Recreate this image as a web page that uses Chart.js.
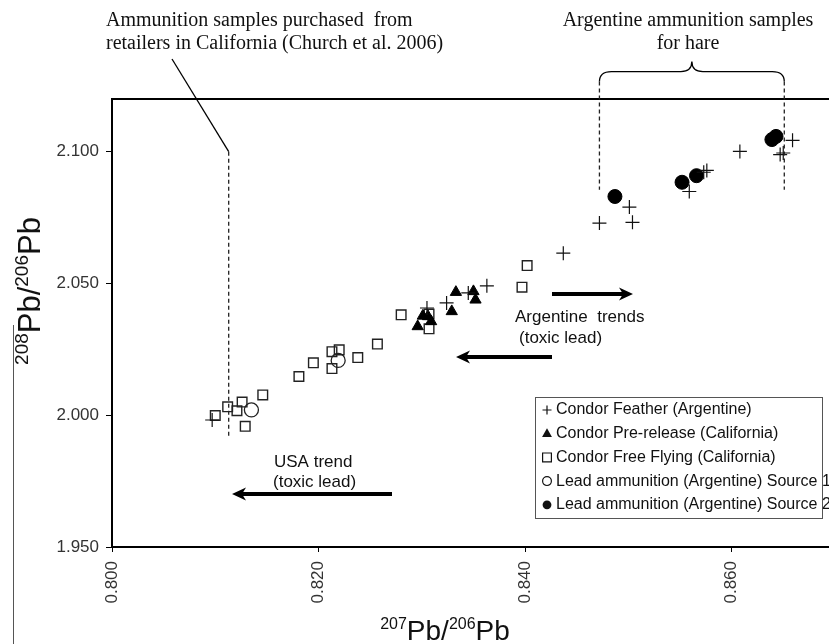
<!DOCTYPE html>
<html>
<head>
<meta charset="utf-8">
<title>Pb isotope ratios</title>
<script src="https://cdn.jsdelivr.net/npm/chart.js@4.4.1/dist/chart.umd.min.js"></script>
<style>
  html, body { margin: 0; padding: 0; overflow: hidden; background: #fff; width: 829px; height: 644px; }
  canvas { position: absolute; left: 0; top: 0; }
</style>
</head>
<body>
<canvas id="pbChart" width="880" height="644" style="width:880px;height:644px"></canvas>
<script>
// tick values
const xTicks = [0.800, 0.820, 0.840, 0.860];
const yTicks = [1.950, 2.000, 2.050, 2.100];

// Condor Feather (Argentine)
const featherX = [0.8097, 0.8305, 0.8324, 0.8345, 0.8363, 0.8437, 0.8472, 0.8504, 0.8501, 0.8559, 0.8573, 0.8576, 0.8608, 0.8647, 0.8650, 0.8659];
const featherY = [1.9982, 2.0407, 2.0426, 2.0464, 2.0491, 2.0615, 2.0729, 2.0732, 2.0790, 2.0849, 2.0922, 2.0929, 2.1001, 2.0989, 2.0995, 2.1043];

// Condor Pre-release (California)
const preReleaseX = [0.8333, 0.8350, 0.8352, 0.8329, 0.8301, 0.8296, 0.8309, 0.8306];
const preReleaseY = [2.0467, 2.0470, 2.0438, 2.0394, 2.0377, 2.0337, 2.0356, 2.0375];

// Condor Free Flying (California)
const freeFlyingX = [0.8100, 0.8112, 0.8126, 0.8121, 0.8129, 0.8146, 0.8181, 0.8195, 0.8213, 0.8220, 0.8213, 0.8238, 0.8257, 0.8280, 0.8307, 0.8307, 0.8397, 0.8402];
const freeFlyingY = [1.9999, 2.0032, 2.0050, 2.0017, 1.9958, 2.0077, 2.0147, 2.0199, 2.0241, 2.0248, 2.0177, 2.0219, 2.0270, 2.0381, 2.0384, 2.0328, 2.0486, 2.0568];

// Lead ammunition (Argentine) Source 1
const source1X = [0.8135, 0.8219];
const source1Y = [2.0020, 2.0208];

// Lead ammunition (Argentine) Source 2
const source2X = [0.8487, 0.8552, 0.8566, 0.8639, 0.8643];
const source2Y = [2.0830, 2.0884, 2.0909, 2.1046, 2.1058];

// reference lines (data units)
const churchLineX = 0.8113;
const churchLineY = [2.100, 1.992];
const hareLinesX = [0.8472, 0.8651];
const hareLinesY = [2.1266, 2.0856];

const SANS = "'Liberation Sans', Arial, sans-serif";
const SERIF = "'Liberation Serif', 'Times New Roman', serif";

function toPoints(xs, ys) {
    return xs.map((x, i) => ({ x: x, y: ys[i] }));
}

function drawMarker(ctx, style, x, y, r) {
    ctx.save();
    ctx.strokeStyle = '#111';
    ctx.fillStyle = '#111';
    ctx.lineWidth = 1.2;
    ctx.beginPath();
    if (style === 'cross') {
        ctx.moveTo(x - r, y); ctx.lineTo(x + r, y);
        ctx.moveTo(x, y - r); ctx.lineTo(x, y + r);
        ctx.stroke();
    } else if (style === 'triangle') {
        ctx.moveTo(x, y - r);
        ctx.lineTo(x + r * 0.9, y + r * 0.6);
        ctx.lineTo(x - r * 0.9, y + r * 0.6);
        ctx.closePath();
        ctx.fill();
    } else if (style === 'rect') {
        ctx.rect(x - r * 0.8, y - r * 0.8, r * 1.6, r * 1.6);
        ctx.stroke();
    } else if (style === 'openCircle') {
        ctx.arc(x, y, r * 0.8, 0, Math.PI * 2);
        ctx.stroke();
    } else {
        ctx.arc(x, y, r * 0.8, 0, Math.PI * 2);
        ctx.fill();
    }
    ctx.restore();
}

// text with superscript parts, e.g. 207Pb/206Pb
function drawIsotopeLabel(ctx, parts, x, y, bigSize, supSize) {
    let total = 0;
    parts.forEach(p => {
        ctx.font = (p.sup ? supSize : bigSize) + 'px ' + SANS;
        p.w = ctx.measureText(p.t).width;
        total += p.w;
    });
    let cx = x - total / 2;
    parts.forEach(p => {
        ctx.font = (p.sup ? supSize : bigSize) + 'px ' + SANS;
        ctx.fillText(p.t, cx, p.sup ? y - bigSize * 0.38 : y);
        cx += p.w;
    });
}

function drawArrow(ctx, x1, y, x2) {
    const dir = x2 > x1 ? 1 : -1;
    ctx.save();
    ctx.strokeStyle = '#000';
    ctx.fillStyle = '#000';
    ctx.lineWidth = 4;
    ctx.beginPath();
    ctx.moveTo(x1, y);
    ctx.lineTo(x2 - dir * 8, y);
    ctx.stroke();
    ctx.beginPath();
    ctx.moveTo(x2, y);
    ctx.lineTo(x2 - dir * 14, y - 6.5);
    ctx.lineTo(x2 - dir * 10, y);
    ctx.lineTo(x2 - dir * 14, y + 6.5);
    ctx.closePath();
    ctx.fill();
    ctx.restore();
}

const annotationPlugin = {
    id: 'annotations',
    afterDatasetsDraw(chart) {
        const ctx = chart.ctx;
        const area = chart.chartArea;
        const xs = chart.scales.x;
        const ys = chart.scales.y;
        ctx.save();

        // top and right frame
        ctx.strokeStyle = '#000';
        ctx.lineWidth = 2;
        ctx.beginPath();
        ctx.moveTo(area.left, area.top);
        ctx.lineTo(area.right, area.top);
        ctx.lineTo(area.right, area.bottom);
        ctx.stroke();

        // stray border line on the far left
        ctx.strokeStyle = '#555';
        ctx.lineWidth = 1;
        ctx.beginPath();
        ctx.moveTo(13.5, 325);
        ctx.lineTo(13.5, 644);
        ctx.stroke();

        // dashed reference lines
        ctx.strokeStyle = '#222';
        ctx.lineWidth = 1.3;
        ctx.setLineDash([4, 3]);
        const cx = xs.getPixelForValue(churchLineX);
        ctx.beginPath();
        ctx.moveTo(cx, ys.getPixelForValue(churchLineY[0]));
        ctx.lineTo(cx, ys.getPixelForValue(churchLineY[1]));
        hareLinesX.forEach(v => {
            const px = xs.getPixelForValue(v);
            ctx.moveTo(px, ys.getPixelForValue(hareLinesY[0]));
            ctx.lineTo(px, ys.getPixelForValue(hareLinesY[1]));
        });
        ctx.stroke();
        ctx.setLineDash([]);

        // pointer from the Church et al. note
        ctx.strokeStyle = '#000';
        ctx.lineWidth = 1.3;
        ctx.beginPath();
        ctx.moveTo(172, 59);
        ctx.lineTo(cx, ys.getPixelForValue(churchLineY[0]));
        ctx.stroke();

        // curly brace over the hare samples
        const bl = xs.getPixelForValue(hareLinesX[0]);
        const br = xs.getPixelForValue(hareLinesX[1]);
        const bt = ys.getPixelForValue(hareLinesY[0]);
        const mid = (bl + br) / 2;
        ctx.beginPath();
        ctx.moveTo(bl, bt);
        ctx.quadraticCurveTo(bl, bt - 10, bl + 12, bt - 10);
        ctx.lineTo(mid - 11, bt - 10);
        ctx.quadraticCurveTo(mid, bt - 10, mid, bt - 20);
        ctx.quadraticCurveTo(mid, bt - 10, mid + 11, bt - 10);
        ctx.lineTo(br - 12, bt - 10);
        ctx.quadraticCurveTo(br, bt - 10, br, bt);
        ctx.stroke();

        // trend arrows
        drawArrow(ctx, 552, 294, 633);
        drawArrow(ctx, 552, 357, 456);
        drawArrow(ctx, 392, 494, 232);

        // texts
        ctx.fillStyle = '#111';
        ctx.textBaseline = 'middle';
        ctx.textAlign = 'left';
        ctx.font = '20px ' + SERIF;
        ctx.fillText('Ammunition samples purchased  from', 106, 21);
        ctx.fillText('retailers in California (Church et al. 2006)', 106, 44);
        ctx.textAlign = 'center';
        ctx.fillText('Argentine ammunition samples', 688, 21);
        ctx.fillText('for hare', 688, 44);

        ctx.textAlign = 'left';
        ctx.font = '17px ' + SANS;
        ctx.fillText('Argentine  trends', 515, 317);
        ctx.fillText('(toxic lead)', 519, 338);
        ctx.fillText('USA trend', 274, 462);
        ctx.fillText('(toxic lead)', 273, 482);

        // axis titles
        ctx.textBaseline = 'alphabetic';
        ctx.textAlign = 'left';
        ctx.fillStyle = '#111';
        drawIsotopeLabel(ctx, [{ t: '207', sup: true }, { t: 'Pb/', sup: false }, { t: '206', sup: true }, { t: 'Pb', sup: false }], 445, 640, 28, 16);
        ctx.save();
        ctx.translate(40, 291);
        ctx.rotate(-Math.PI / 2);
        drawIsotopeLabel(ctx, [{ t: '208', sup: true }, { t: 'Pb/', sup: false }, { t: '206', sup: true }, { t: 'Pb', sup: false }], 0, 0, 31, 19);
        ctx.restore();

        ctx.restore();
    }
};

const legendPlugin = {
    id: 'boxLegend',
    afterDraw(chart) {
        const ctx = chart.ctx;
        const left = 535, top = 397, right = 822, bottom = 518;
        ctx.save();
        ctx.fillStyle = '#fff';
        ctx.fillRect(left, top, right - left, bottom - top);
        ctx.strokeStyle = '#555';
        ctx.lineWidth = 1;
        ctx.strokeRect(left + 0.5, top + 0.5, right - left, bottom - top);
        ctx.font = '16px ' + SANS;
        ctx.textBaseline = 'middle';
        ctx.textAlign = 'left';
        chart.data.datasets.forEach((ds, i) => {
            const yy = 410 + i * 23.7;
            drawMarker(ctx, ds.legendMarker, 547, yy, ds.legendMarker === 'cross' ? 4.5 : 5.5);
            ctx.fillStyle = '#111';
            ctx.fillText(ds.label, 556, yy);
        });
        ctx.restore();
    }
};

function drawChart() {
    const canvas = document.getElementById('pbChart');
    new Chart(canvas, {
        type: 'scatter',
        data: {
            datasets: [
                {
                    label: 'Condor Feather (Argentine)',
                    legendMarker: 'cross',
                    data: toPoints(featherX, featherY),
                    pointStyle: 'cross',
                    pointRadius: 7,
                    borderColor: '#111',
                    backgroundColor: '#111',
                    pointBorderWidth: 1.2
                },
                {
                    label: 'Condor Pre-release (California)',
                    legendMarker: 'triangle',
                    data: toPoints(preReleaseX, preReleaseY),
                    pointStyle: 'triangle',
                    pointRadius: 6.5,
                    borderColor: '#000',
                    backgroundColor: '#000',
                    pointBorderWidth: 1
                },
                {
                    label: 'Condor Free Flying (California)',
                    legendMarker: 'rect',
                    data: toPoints(freeFlyingX, freeFlyingY),
                    pointStyle: 'rect',
                    pointRadius: 6.8,
                    borderColor: '#222',
                    backgroundColor: 'rgba(0,0,0,0)',
                    pointBorderWidth: 1.4
                },
                {
                    label: 'Lead ammunition (Argentine) Source 1',
                    legendMarker: 'openCircle',
                    data: toPoints(source1X, source1Y),
                    pointStyle: 'circle',
                    pointRadius: 7,
                    borderColor: '#222',
                    backgroundColor: 'rgba(0,0,0,0)',
                    pointBorderWidth: 1.3
                },
                {
                    label: 'Lead ammunition (Argentine) Source 2',
                    legendMarker: 'filledCircle',
                    data: toPoints(source2X, source2Y),
                    pointStyle: 'circle',
                    pointRadius: 7,
                    borderColor: '#000',
                    backgroundColor: '#000',
                    pointBorderWidth: 1
                }
            ]
        },
        options: {
            responsive: false,
            animation: false,
            layout: { padding: { left: 0, top: 99, right: 10, bottom: 0 } },
            plugins: {
                legend: { display: false },
                tooltip: { enabled: false }
            },
            scales: {
                x: {
                    type: 'linear',
                    min: 0.800,
                    max: 0.8734,
                    afterBuildTicks: s => { s.ticks = xTicks.map(v => ({ value: v })); },
                    afterFit: s => { s.height = 97; },
                    border: { display: true, color: '#000', width: 2 },
                    grid: { drawOnChartArea: false, drawTicks: true, tickLength: 5, color: '#000', lineWidth: 1 },
                    ticks: {
                        autoSkip: false,
                        minRotation: 90,
                        maxRotation: 90,
                        padding: 9,
                        color: '#333',
                        font: { family: SANS, size: 17 },
                        callback: v => v.toFixed(3)
                    }
                },
                y: {
                    type: 'linear',
                    min: 1.950,
                    max: 2.120,
                    afterBuildTicks: s => { s.ticks = yTicks.map(v => ({ value: v })); },
                    afterFit: s => { s.width = 112; },
                    border: { display: true, color: '#000', width: 2 },
                    grid: { drawOnChartArea: false, drawTicks: true, tickLength: 6, color: '#000', lineWidth: 1 },
                    ticks: {
                        autoSkip: false,
                        padding: 7,
                        color: '#333',
                        font: { family: SANS, size: 17 },
                        callback: v => v.toFixed(3)
                    }
                }
            }
        },
        plugins: [annotationPlugin, legendPlugin]
    });
}

window.addEventListener('load', drawChart);
</script>
</body>
</html>
